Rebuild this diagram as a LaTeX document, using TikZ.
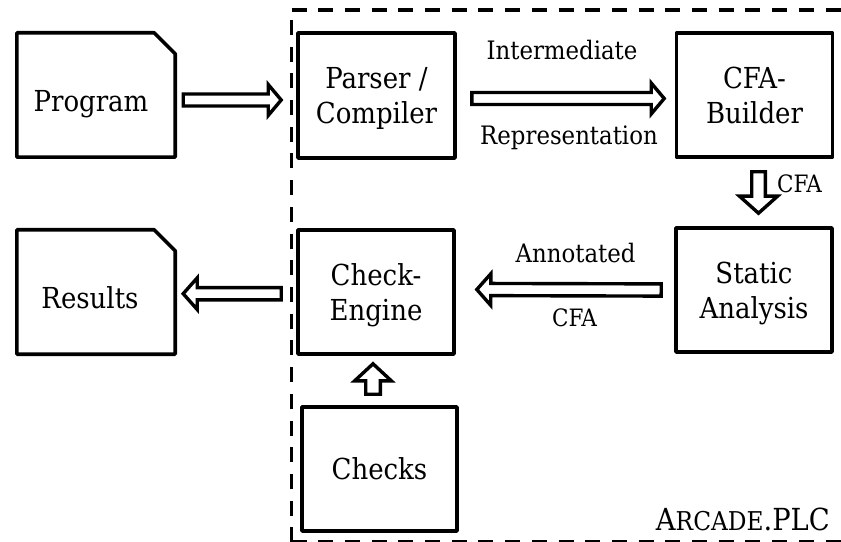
\documentclass[tikz,border=0pt]{standalone}
\usepackage{fontspec}
\setmainfont{DejaVu Serif Condensed}
\usetikzlibrary{calc}
\tikzset{
  box/.style={draw, line width=3.6bp, line join=round, minimum width=156bp, minimum height=124bp,
    inner sep=0pt, align=center, text depth=0pt, font=\fontsize{29}{35}\selectfont},
  docbox/.style={minimum width=158bp, minimum height=124bp, inner sep=0pt},
  docline/.style={draw, line width=3.6bp, line join=round},
  doctext/.style={inner sep=0pt, anchor=base, font=\fontsize{29}{35}\selectfont},
  barrow/.style={draw, fill=white, line width=3.4bp, line join=miter},
  lbl/.style={inner sep=0pt, anchor=base, font=\fontsize{25.5}{30}\selectfont},
  lblsmall/.style={inner sep=0pt, anchor=base, font=\fontsize{24}{28}\selectfont},
  frameline/.style={line width=3.3bp, dash pattern=on 15bp off 11.7bp},
}
% #1 start, #2 tip, #3 shaft half width, #4 head half width, #5 head length
\newcommand\blockarrow[5]{%
  \coordinate (bahead) at ($(#2)!#5!(#1)$);
  \draw[barrow] ($(#1)!#3!90:(#2)$) -- ($(bahead)!#3!-90:(#1)$) -- ($(bahead)!#4!-90:(#1)$)
    -- (#2) -- ($(bahead)!#4!90:(#1)$) -- ($(bahead)!#3!90:(#1)$) -- ($(#1)!#3!-90:(#2)$) -- cycle;}
\begin{document}
\begin{tikzpicture}[x=1bp,y=-1bp]
\useasboundingbox (0,0) rectangle (841,542);

% dashed frame (right side lies beyond the picture)
\draw[frameline] (291.5,10) -- (860,10);
\draw[frameline, dash phase=16.7bp] (291.5,10) -- (291.5,541.5);
\draw[frameline] (291.5,541.5) -- (860,541.5);

% document-shaped boxes
\node[docbox] (prog) at (96,95) {};
\draw[docline] (prog.south west) |- ($(prog.north east)+(-21,0)$) -- ($(prog.north east)+(0,21)$) -- (prog.south east) -- cycle;
\node[doctext] (progt) at ($(prog.center)+(-5,17)$) {Program};

\node[docbox] (results) at (96,292) {};
\draw[docline] (results.south west) |- ($(results.north east)+(-21,0)$) -- ($(results.north east)+(0,21)$) -- (results.south east) -- cycle;
\node[doctext] (resultst) at ($(results.center)+(-6,17)$) {Results};

% plain boxes
\node[box, minimum width=157bp, minimum height=125bp] (parser) at (376.5,95.5) {Parser /\\Compiler};
\node[box] (cfab) at (754.5,95) {CFA-\\Builder};
\node[box] (static) at (754,290) {Static\\Analysis};
\node[box] (engine) at (376,292) {Check-\\Engine};
\node[box, minimum width=155bp] (checks) at (379.5,469) {Checks};

% arrows
\coordinate (a1s) at ($(prog.east)+(8,5)$);
\coordinate (a1e) at ($(parser.west)+(-15,4.5)$);
\blockarrow{a1s}{a1e}{6bp}{15.5bp}{13bp}

\coordinate (a2s) at ($(parser.east)+(15,3)$);
\coordinate (a2e) at ($(cfab.west)+(-10.5,3.5)$);
\blockarrow{a2s}{a2e}{6bp}{15.5bp}{13bp}

\coordinate (a3s) at ($(cfab.south)+(4,13)$);
\coordinate (a3e) at ($(static.north)+(4.5,-13)$);
\blockarrow{a3s}{a3e}{6.8bp}{19bp}{17bp}

\coordinate (a4s) at ($(static.west)+(-13,0)$);
\coordinate (a4e) at ($(engine.east)+(21,-2.5)$);
\blockarrow{a4s}{a4e}{6.1bp}{15.8bp}{14bp}

\coordinate (a5s) at ($(engine.west)+(-15,1.7)$);
\coordinate (a5e) at ($(results.east)+(8,1.7)$);
\blockarrow{a5s}{a5e}{6.1bp}{15.8bp}{14bp}

\coordinate (a6s) at ($(checks.north)+(-6.5,-11)$);
\coordinate (a6e) at ($(engine.south)+(-3,8)$);
\blockarrow{a6s}{a6e}{7.3bp}{18.3bp}{17bp}

% labels
\node[lbl] (l1) at (562,60) {Intermediate};
\node[lbl] (l2) at (569,145) {Representation};
\node[lblsmall] (l3) at (799.5,193) {CFA};
\node[lbl] (l4) at (575.5,263) {Annotated};
\node[lblsmall] (l5) at (574.5,327) {CFA};
\node[inner sep=0pt, anchor=base east] (arcade) at (830,530)
  {\fontsize{30.5}{34}\selectfont A\fontsize{26}{28}\selectfont RCADE\fontsize{30.5}{34}\selectfont .PLC};
\end{tikzpicture}
\end{document}
